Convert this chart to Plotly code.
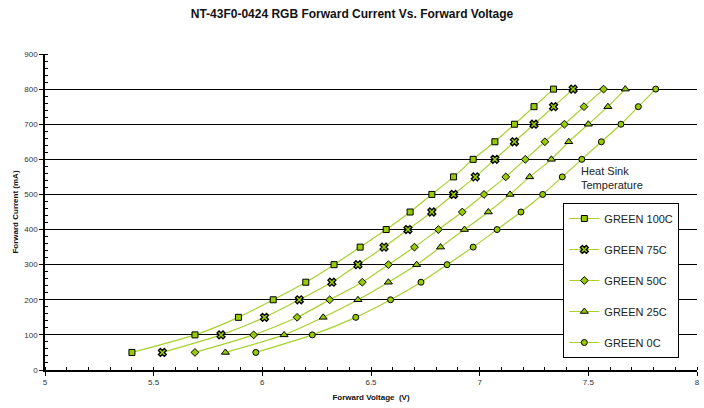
import plotly.graph_objects as go

# Forward current steps (mA) shared by every series
current_ma = [50, 100, 150, 200, 250, 300, 350, 400, 450, 500, 550, 600, 650, 700, 750, 800]

# Forward voltage (V) at each current, per heat-sink temperature
v_100c = [5.40, 5.69, 5.89, 6.05, 6.20, 6.33, 6.45, 6.57, 6.68, 6.78, 6.88, 6.97, 7.07, 7.16, 7.25, 7.34]
v_75c = [5.54, 5.81, 6.01, 6.17, 6.32, 6.44, 6.56, 6.67, 6.78, 6.88, 6.98, 7.07, 7.16, 7.25, 7.34, 7.43]
v_50c = [5.69, 5.96, 6.16, 6.31, 6.46, 6.58, 6.70, 6.81, 6.92, 7.02, 7.12, 7.21, 7.30, 7.39, 7.48, 7.57]
v_25c = [5.83, 6.10, 6.28, 6.44, 6.58, 6.71, 6.82, 6.93, 7.04, 7.14, 7.23, 7.33, 7.41, 7.50, 7.59, 7.67]
v_0c = [5.97, 6.23, 6.43, 6.59, 6.73, 6.85, 6.97, 7.08, 7.19, 7.29, 7.38, 7.47, 7.56, 7.65, 7.73, 7.81]

series_names = ["GREEN 100C", "GREEN 75C", "GREEN 50C", "GREEN 25C", "GREEN 0C"]
series_values = [v_100c, v_75c, v_50c, v_25c, v_0c]
series_symbols = ["square", "x", "diamond", "triangle-up", "circle"]
series_sizes = [6, 7, 6, 7, 6]
series_outline = [1, 1.3, 1, 1, 1]

LINE_COLOR = "#A8D12E"
MARKER_FILL = "#99CC00"
FONT = "Arial, Liberation Sans, sans-serif"

fig = go.Figure()
for i, (name, volts, sym, sz, ow) in enumerate(
        zip(series_names, series_values, series_symbols, series_sizes, series_outline)):
    fig.add_trace(go.Scatter(
        x=volts, y=current_ma, name=name, mode="lines+markers",
        legendgroup=f"g{i}",
        line=dict(color=LINE_COLOR, width=1.2, shape="spline", smoothing=0.6),
        marker=dict(symbol=sym, size=sz, color=MARKER_FILL,
                    line=dict(color="black", width=ow)),
    ))

fig.add_annotation(
    x=7.457, y=547, xref="x", yref="y", xanchor="left", yanchor="middle",
    text="Heat Sink<br>Temperature", showarrow=False, align="left",
    font=dict(family=FONT, size=11, color="#222222"),
)

fig.update_layout(
    width=704, height=408,
    margin=dict(l=45, r=4, t=54, b=38),
    paper_bgcolor="white", plot_bgcolor="white",
    font=dict(family=FONT, color="#222222"),
    title=dict(
        text="<b>NT-43F0-0424 RGB Forward Current Vs. Forward Voltage</b>",
        x=0.5, xanchor="center", y=0.965, yanchor="middle",
        font=dict(family=FONT, size=12, color="#111111"),
    ),
    legend=dict(
        x=0.795, y=0.5285, xanchor="left", yanchor="top",
        bgcolor="white", bordercolor="black", borderwidth=1,
        font=dict(family=FONT, size=11, color="#222222"),
        itemwidth=30, tracegroupgap=12, traceorder="grouped",
    ),
    xaxis=dict(
        range=[5, 8], dtick=0.5, tick0=5,
        showgrid=False, zeroline=False,
        showline=True, linecolor="black", linewidth=1.5,
        ticks="outside", ticklen=4, tickcolor="black",
        minor=dict(dtick=0.1, ticks="inside", ticklen=3, tickcolor="black"),
        tickfont=dict(family=FONT, size=8, color="#333333"),
        title=dict(text="<b>Forward Voltage  (V)</b>", standoff=8,
                   font=dict(family=FONT, size=8, color="#111111")),
    ),
    yaxis=dict(
        range=[0, 900], dtick=100, tick0=0,
        showgrid=True, gridcolor="black", gridwidth=1, zeroline=False,
        showline=True, linecolor="black", linewidth=1.5,
        ticks="outside", ticklen=4, tickcolor="black",
        minor=dict(dtick=20, ticks="inside", ticklen=3, tickcolor="black", showgrid=False),
        tickfont=dict(family=FONT, size=8, color="#333333"),
        title=dict(text="<b>Forward Current (mA)</b>", standoff=4,
                   font=dict(family=FONT, size=8, color="#111111")),
    ),
)

fig.write_html("out.html")
